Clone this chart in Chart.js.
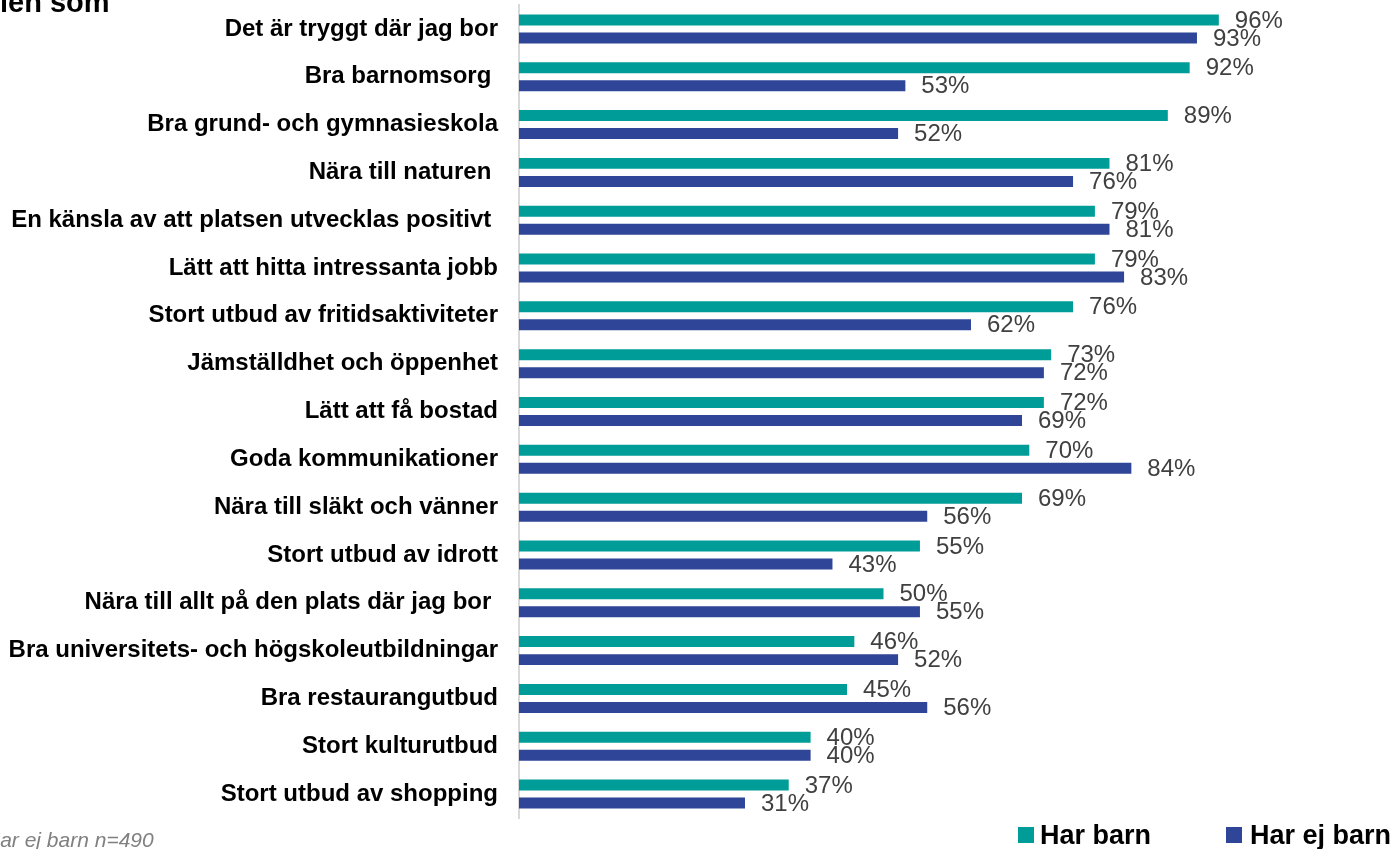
<!DOCTYPE html>
<html>
<head>
<meta charset="utf-8">
<script src="https://cdn.jsdelivr.net/npm/chart.js@4.4.1/dist/chart.umd.min.js"></script>
<style>
  body { margin: 0; background: #fff; font-family: Arial, "Liberation Sans", sans-serif; }
  #wrap { position: relative; width: 1395px; height: 849px; overflow: hidden; }
  #chart-box { position: absolute; left: 0; top: 0; width: 1395px; height: 849px; }
  .title { position: absolute; left: 0; top: -12px; font: bold 29px Arial, "Liberation Sans", sans-serif; line-height: 29px; color: #000; white-space: nowrap; }
  .note { position: absolute; left: -15px; top: 829px; font: italic 21px Arial, "Liberation Sans", sans-serif; line-height: 21px; color: #808080; white-space: nowrap; }
  .legend-box { position: absolute; width: 16px; height: 16px; top: 827px; }
  .legend-text { position: absolute; top: 822px; font: bold 27px Arial, "Liberation Sans", sans-serif; line-height: 27px; color: #000; white-space: nowrap; }
</style>
</head>
<body>
<div id="wrap">
  <div id="chart-box"><canvas id="bar-chart"></canvas></div>
  <div class="title">len som</div>
  <div class="note">Har ej barn n=490</div>
  <div id="legend"></div>
</div>
<script>
// categories (top to bottom)
const categories = [
  'Det är tryggt där jag bor',
  'Bra barnomsorg ',
  'Bra grund- och gymnasieskola',
  'Nära till naturen ',
  'En känsla av att platsen utvecklas positivt ',
  'Lätt att hitta intressanta jobb',
  'Stort utbud av fritidsaktiviteter',
  'Jämställdhet och öppenhet',
  'Lätt att få bostad',
  'Goda kommunikationer',
  'Nära till släkt och vänner',
  'Stort utbud av idrott',
  'Nära till allt på den plats där jag bor ',
  'Bra universitets- och högskoleutbildningar',
  'Bra restaurangutbud',
  'Stort kulturutbud',
  'Stort utbud av shopping'
];

const seriesNames = ['Har barn', 'Har ej barn'];
const harBarn = [96, 92, 89, 81, 79, 79, 76, 73, 72, 70, 69, 55, 50, 46, 45, 40, 37];
const harEjBarn = [93, 53, 52, 76, 81, 83, 62, 72, 69, 84, 56, 43, 55, 52, 56, 40, 31];
const colors = ['#009D98', '#2E4598'];

// percentage labels next to each bar
const valueLabels = {
  id: 'valueLabels',
  afterDatasetsDraw(chart) {
    const ctx = chart.ctx;
    ctx.save();
    ctx.font = '24px Arial, "Liberation Sans", sans-serif';
    ctx.fillStyle = '#404040';
    ctx.textAlign = 'left';
    ctx.textBaseline = 'middle';
    chart.data.datasets.forEach((ds, i) => {
      chart.getDatasetMeta(i).data.forEach((bar, j) => {
        ctx.fillText(ds.data[j] + '%', bar.x + 16, bar.y + 1);
      });
    });
    ctx.restore();
  }
};

const ctx = document.getElementById('bar-chart').getContext('2d');
const chart = new Chart(ctx, {
  type: 'bar',
  data: {
    labels: categories,
    datasets: [
      { label: seriesNames[0], data: harBarn, backgroundColor: colors[0] },
      { label: seriesNames[1], data: harEjBarn, backgroundColor: colors[1] }
    ]
  },
  options: {
    indexAxis: 'y',
    responsive: true,
    maintainAspectRatio: false,
    animation: false,
    datasets: {
      bar: { categoryPercentage: 0.753, barPercentage: 0.61 }
    },
    layout: { padding: { left: 0, right: 147, top: 5, bottom: 31 } },
    plugins: {
      legend: { display: false },
      tooltip: { enabled: false }
    },
    scales: {
      x: { display: false, min: 0, max: 100 },
      y: {
        afterFit: function(scale) {
          // fixed label column, no extra top/bottom padding
          scale.width = 519;
          scale.paddingTop = 0;
          scale.paddingBottom = 0;
        },
        grid: { display: false, drawTicks: false },
        border: { display: true, color: '#d9d9d9', width: 2 },
        ticks: {
          autoSkip: false,
          padding: 21,
          color: '#000',
          font: { family: 'Arial, "Liberation Sans", sans-serif', size: 24, weight: 'bold' }
        }
      }
    }
  },
  plugins: [valueLabels]
});

// legend at bottom right
const legend = document.getElementById('legend');
const legendX = [[1018, 1040], [1226, 1250]];
seriesNames.forEach((name, i) => {
  const box = document.createElement('div');
  box.className = 'legend-box';
  box.style.left = legendX[i][0] + 'px';
  box.style.background = colors[i];
  const txt = document.createElement('div');
  txt.className = 'legend-text';
  txt.style.left = legendX[i][1] + 'px';
  txt.textContent = name;
  legend.appendChild(box);
  legend.appendChild(txt);
});
</script>
</body>
</html>
